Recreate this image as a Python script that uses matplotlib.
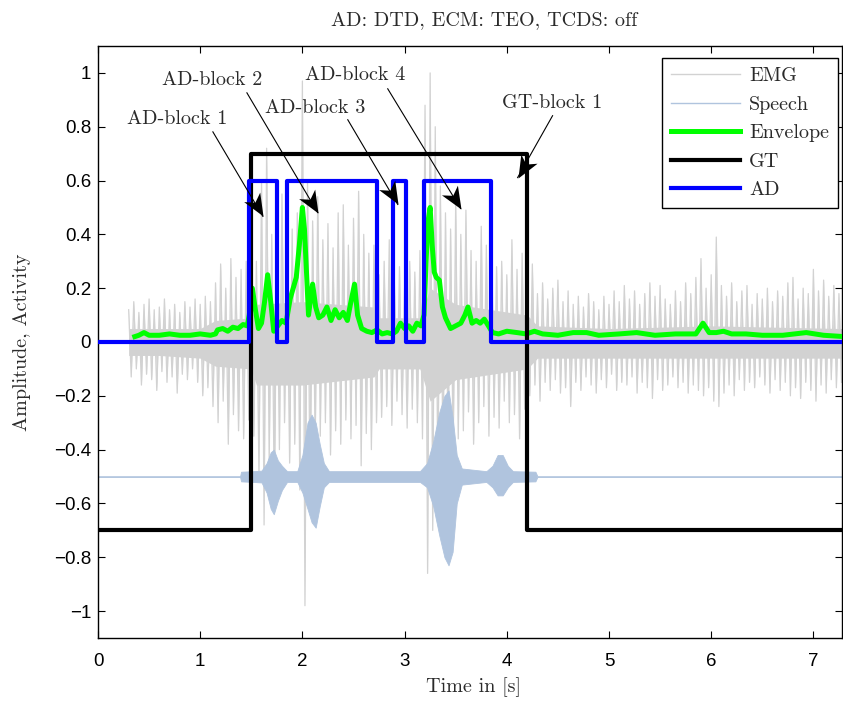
import numpy as np
import matplotlib
matplotlib.use("Agg")
import matplotlib.pyplot as plt
from matplotlib.lines import Line2D
from matplotlib.markers import MarkerStyle
from matplotlib.path import Path
from matplotlib.transforms import Affine2D

# ---------------- data ----------------
# EMG: upper / lower extent per 0.05 s sample, starting at 0.30 s
emg_start = 0.30
emg_step = 0.05
emg_hi = [0.12, 0.15, 0.11, 0.14, 0.16, 0.12, 0.13, 0.16, 0.12, 0.14, 0.11, 0.15, 0.13, 0.16, 0.14, 0.17, 0.15,
          0.22, 0.29, 0.20, 0.31, 0.24, 0.27, 0.30,
          0.45, 0.30, 0.60, 0.72, 0.40, 0.35, 0.55, 0.30, 0.42, 0.48,
          0.97, 0.60, 0.45, 0.54, 0.38, 0.44, 0.35, 0.48, 0.51, 0.36, 0.46, 0.56, 0.40, 0.33, 0.36,
          0.25, 0.30, 0.38, 0.22, 0.28, 0.20, 0.30, 0.26, 0.34,
          0.88, 1.00, 0.80, 0.58, 0.48, 0.42, 0.52,
          0.40, 0.49, 0.34, 0.30, 0.43, 0.36, 0.45, 0.28, 0.30, 0.25, 0.38, 0.27, 0.33,
          0.24, 0.29, 0.18, 0.22, 0.16, 0.20, 0.23, 0.15, 0.19, 0.14, 0.17, 0.13, 0.18, 0.15, 0.12, 0.17,
          0.14, 0.19, 0.15, 0.21, 0.16, 0.19, 0.14, 0.18, 0.22, 0.17, 0.21, 0.16, 0.14, 0.19, 0.15, 0.22,
          0.18, 0.24, 0.31, 0.20, 0.25, 0.39, 0.21, 0.17, 0.22, 0.15, 0.19, 0.21, 0.14, 0.18, 0.16, 0.20,
          0.15, 0.19, 0.17, 0.22, 0.24, 0.16, 0.20, 0.18, 0.27, 0.19, 0.23, 0.17, 0.21, 0.18]
emg_lo = [-0.13, -0.10, -0.16, -0.12, -0.14, -0.18, -0.11, -0.15, -0.13, -0.19, -0.12, -0.14, -0.10, -0.15, -0.20, -0.17, -0.24,
          -0.30, -0.22, -0.38, -0.27, -0.33, -0.36, -0.29,
          -0.35, -0.50, -0.68, -0.45, -0.62, -0.40, -0.30, -0.45, -0.38, -0.55,
          -0.98, -0.62, -0.40, -0.35, -0.30, -0.42, -0.33, -0.38, -0.29, -0.36, -0.31, -0.46, -0.34, -0.40, -0.30,
          -0.28, -0.24, -0.31, -0.22, -0.27, -0.32, -0.25, -0.30, -0.36,
          -0.86, -0.70, -0.55, -0.45, -0.40, -0.42, -0.36,
          -0.33, -0.26, -0.38, -0.30, -0.24, -0.35, -0.28, -0.32, -0.22, -0.30, -0.27, -0.36, -0.25,
          -0.20, -0.16, -0.22, -0.15, -0.18, -0.14, -0.19, -0.17, -0.24, -0.15, -0.18, -0.13, -0.16, -0.19, -0.14, -0.17,
          -0.12, -0.18, -0.15, -0.16, -0.13, -0.19, -0.15, -0.17, -0.21, -0.14, -0.18, -0.16, -0.13, -0.17, -0.15, -0.19,
          -0.16, -0.18, -0.20, -0.17, -0.22, -0.24, -0.19, -0.16, -0.20, -0.14, -0.18, -0.15, -0.17, -0.13, -0.16, -0.19,
          -0.14, -0.18, -0.15, -0.20, -0.17, -0.21, -0.15, -0.18, -0.22, -0.16, -0.19, -0.14, -0.17, -0.15]
# EMG dense core band
core_t = [0.30, 0.60, 1.00, 1.15, 1.50, 1.55, 2.00, 2.70, 2.75, 3.15, 3.25, 3.50, 4.20, 4.30, 5.00, 6.00, 7.28]
core_hi = [0.05, 0.05, 0.05, 0.08, 0.09, 0.14, 0.15, 0.13, 0.09, 0.09, 0.20, 0.14, 0.10, 0.06, 0.05, 0.06, 0.05]
core_lo = [-0.05, -0.05, -0.06, -0.09, -0.10, -0.16, -0.16, -0.13, -0.10, -0.10, -0.22, -0.14, -0.10, -0.06, -0.06, -0.06, -0.06]

# Speech (centred on -0.5): time, extent above and below the centre line
speech_center = -0.5
sp_t = [0.00, 1.39, 1.40, 1.52, 1.60, 1.65, 1.69, 1.72, 1.76, 1.80, 1.85, 1.95, 2.00, 2.05, 2.09, 2.13, 2.17, 2.21, 2.26, 2.35,
        3.00, 3.15, 3.22, 3.28, 3.34, 3.39, 3.43, 3.47, 3.51, 3.56, 3.80, 3.86, 3.91, 3.96, 4.01, 4.06, 4.28, 4.30, 7.30]
sp_up = [0.001, 0.001, 0.018, 0.02, 0.022, 0.05, 0.09, 0.10, 0.06, 0.04, 0.02, 0.02, 0.08, 0.20, 0.23, 0.20, 0.12, 0.05, 0.02, 0.02,
         0.02, 0.02, 0.05, 0.13, 0.24, 0.30, 0.32, 0.22, 0.08, 0.03, 0.02, 0.04, 0.08, 0.08, 0.04, 0.02, 0.018, 0.001, 0.001]
sp_dn = [0.001, 0.001, 0.018, 0.02, 0.022, 0.06, 0.12, 0.14, 0.09, 0.05, 0.02, 0.02, 0.06, 0.12, 0.17, 0.19, 0.11, 0.04, 0.02, 0.02,
         0.02, 0.02, 0.04, 0.11, 0.22, 0.30, 0.33, 0.28, 0.10, 0.03, 0.02, 0.04, 0.07, 0.07, 0.04, 0.02, 0.018, 0.001, 0.001]

# Envelope
env_t = [0.36, 0.40, 0.45, 0.50, 0.60, 0.70, 0.80, 0.90, 1.00, 1.10,
         1.15, 1.17, 1.22, 1.27, 1.32, 1.37, 1.42, 1.46, 1.48, 1.51,
         1.54, 1.57, 1.60, 1.63, 1.66, 1.69, 1.72, 1.76, 1.80, 1.84,
         1.88, 1.91, 1.94, 1.97, 2.00, 2.02, 2.04, 2.06, 2.08, 2.10,
         2.13, 2.16, 2.20, 2.24, 2.28, 2.32, 2.36, 2.40, 2.44, 2.47,
         2.51, 2.54, 2.58, 2.63, 2.68, 2.73, 2.78, 2.83, 2.88, 2.92,
         2.96, 3.00, 3.04, 3.08, 3.12, 3.16, 3.19, 3.21, 3.23, 3.25,
         3.27, 3.29, 3.31, 3.34, 3.37, 3.40, 3.45, 3.50, 3.55, 3.59,
         3.62, 3.66, 3.70, 3.74, 3.78, 3.82, 3.86, 3.92, 4.00, 4.10,
         4.19, 4.27, 4.35, 4.50, 4.65, 4.78, 4.90, 5.10, 5.27, 5.45,
         5.65, 5.85, 5.92, 5.98, 6.05, 6.12, 6.20, 6.34, 6.50, 6.70,
         6.93, 7.10, 7.30]
env_v = [0.02, 0.025, 0.035, 0.025, 0.025, 0.03, 0.025, 0.025, 0.03, 0.025,
         0.03, 0.045, 0.05, 0.04, 0.055, 0.05, 0.065, 0.06, 0.10, 0.20,
         0.12, 0.05, 0.07, 0.15, 0.25, 0.15, 0.04, 0.06, 0.08, 0.07,
         0.16, 0.20, 0.24, 0.36, 0.50, 0.42, 0.26, 0.10, 0.16, 0.215,
         0.13, 0.09, 0.10, 0.13, 0.08, 0.12, 0.09, 0.11, 0.08, 0.14,
         0.215, 0.10, 0.05, 0.04, 0.035, 0.045, 0.03, 0.035, 0.03, 0.04,
         0.07, 0.05, 0.06, 0.04, 0.07, 0.06, 0.10, 0.30, 0.45, 0.50,
         0.36, 0.26, 0.24, 0.23, 0.13, 0.09, 0.05, 0.06, 0.07, 0.10,
         0.13, 0.07, 0.08, 0.07, 0.085, 0.06, 0.035, 0.03, 0.04, 0.035,
         0.03, 0.04, 0.03, 0.025, 0.035, 0.035, 0.025, 0.03, 0.035, 0.025,
         0.03, 0.03, 0.07, 0.035, 0.035, 0.04, 0.03, 0.03, 0.025, 0.025,
         0.035, 0.025, 0.02]

# Ground truth and activity detection (step functions)
gt_edges = [0.0, 1.50, 4.20, 7.30]
gt_levels = [-0.7, 0.7, -0.7, -0.7]
ad_edges = [0.0, 1.48, 1.75, 1.845, 2.73, 2.89, 3.01, 3.19, 3.845, 7.30]
ad_levels = [0.0, 0.6, 0.0, 0.6, 0.0, 0.6, 0.0, 0.6, 0.0, 0.0]

# Annotations: label, text centre, arrow tail, arrow tip (data coords)
annotations = [
    ("AD-block 1", (0.772, 0.830), (1.124, 0.781), (1.613, 0.467)),
    ("AD-block 2", (1.114, 0.974), (1.457, 0.926), (2.150, 0.481)),
    ("AD-block 3", (2.121, 0.870), (2.444, 0.826), (2.933, 0.511)),
    ("AD-block 4", (2.512, 0.993), (2.835, 0.941), (3.548, 0.496)),
    ("GT-block 1", (4.448, 0.889), (4.448, 0.841), (4.106, 0.611)),
]

x_ticks = [0, 1, 2, 3, 4, 5, 6, 7]
y_ticks = [-1, -0.8, -0.6, -0.4, -0.2, 0, 0.2, 0.4, 0.6, 0.8, 1]

# ---------------- figure ----------------
W, H = 843, 702
fig = plt.figure(figsize=(W / 100, H / 100), dpi=100)
ax = fig.add_axes([98 / W, 64 / H, (842 - 98) / W, (638 - 46) / H])
ax.set_xlim(0, 7.28)
ax.set_ylim(-1.1, 1.1)

serif = "cmr10"
txt_color = "#2a2a2a"
emg_color = "#d2d2d2"
speech_color = "#b0c4de"

# EMG: dense core, spike triangles towards zero, and the zig-zag trace
emg_hi = np.array(emg_hi)
emg_lo = np.array(emg_lo)
emg_t = emg_start + emg_step * np.arange(len(emg_hi))
zz_t = np.empty(2 * len(emg_t))
zz_v = np.empty(2 * len(emg_t))
zz_t[0::2] = emg_t
zz_t[1::2] = emg_t + emg_step / 2
zz_v[0::2] = emg_hi
zz_v[1::2] = emg_lo
ax.fill_between(core_t, core_lo, core_hi, color=emg_color, lw=0, zorder=1)
ax.fill_between(zz_t, zz_v, 0, color=emg_color, lw=0, zorder=1, interpolate=True)
ax.plot(zz_t, zz_v, color=emg_color, lw=0.9, zorder=1)

# Speech
sp_t_a = np.array(sp_t)
ax.fill_between(sp_t_a, speech_center - np.array(sp_dn), speech_center + np.array(sp_up),
                color=speech_color, lw=0.6, edgecolor=speech_color, zorder=2)

# Envelope, GT, AD
ax.plot(env_t, env_v, color="#00ff00", lw=3.6, zorder=3, solid_joinstyle="round")
ax.step(gt_edges, gt_levels, where="post", color="black", lw=3.0, zorder=4)
ax.step(ad_edges, ad_levels, where="post", color="#0000ff", lw=3.0, zorder=5)

# Annotations with MATLAB-like concave arrow heads
head_path = Path([(0, 0), (-1.0, 0.42), (-0.72, 0.0), (-1.0, -0.42), (0, 0)],
                 [Path.MOVETO, Path.LINETO, Path.LINETO, Path.LINETO, Path.CLOSEPOLY])
fig.canvas.draw()
for label, tc, tail, tip in annotations:
    ax.text(tc[0], tc[1], label, family=serif, fontsize=14.5, color=txt_color,
            ha="center", va="center", zorder=7)
    ax.plot([tail[0], tip[0]], [tail[1], tip[1]], color="black", lw=0.8, zorder=7)
    p0 = ax.transData.transform(tail)
    p1 = ax.transData.transform(tip)
    ang = np.degrees(np.arctan2(p1[1] - p0[1], p1[0] - p0[0]))
    ms = MarkerStyle(head_path, transform=Affine2D().rotate_deg(ang))
    ax.plot([tip[0]], [tip[1]], marker=ms, markersize=32, color="black",
            markeredgewidth=0, linestyle="none", zorder=8)

# Axes styling
for s in ax.spines.values():
    s.set_linewidth(1.0)
ax.set_xticks(x_ticks)
ax.set_yticks(y_ticks)
ax.set_xticklabels([f"{v:g}" for v in x_ticks])
ax.set_yticklabels([f"{v:g}".replace("-", "\u2212") for v in y_ticks])
ax.tick_params(direction="in", length=5, width=0.8, top=True, right=True,
               labelsize=13.5, labelfontfamily="Liberation Sans", labelcolor="black")
ax.tick_params(axis="x", pad=11)
ax.tick_params(axis="y", pad=5)

fig.text(484 / W, 1 - 20 / H, "AD: DTD, ECM: TEO, TCDS: off", family=serif,
         fontsize=14.5, color=txt_color, ha="center", va="center")
fig.text(473 / W, 1 - 687 / H, "Time in [s]", family=serif, fontsize=14.5,
         color=txt_color, ha="center", va="center")
fig.text(22 / W, 1 - 342 / H, "Amplitude, Activity", family=serif, fontsize=14.5,
         color=txt_color, ha="center", va="center", rotation=90)

handles = [
    Line2D([], [], color=emg_color, lw=1.0),
    Line2D([], [], color=speech_color, lw=1.0),
    Line2D([], [], color="#00ff00", lw=3.6),
    Line2D([], [], color="black", lw=3.0),
    Line2D([], [], color="#0000ff", lw=3.0),
]
labels = ["EMG", "Speech", "Envelope", "GT", "AD"]
leg = ax.legend(handles, labels, loc="upper right",
                bbox_to_anchor=(838 / W, 1 - 58 / H), bbox_transform=fig.transFigure,
                borderaxespad=0, fancybox=False, framealpha=1, edgecolor="black",
                prop={"family": serif, "size": 14.5}, handlelength=3.4,
                handletextpad=0.45, labelspacing=0.52, borderpad=0.45)
leg.get_frame().set_linewidth(1.0)
for t in leg.get_texts():
    t.set_color(txt_color)
leg.set_zorder(10)

fig.savefig("out.png", dpi=100)
